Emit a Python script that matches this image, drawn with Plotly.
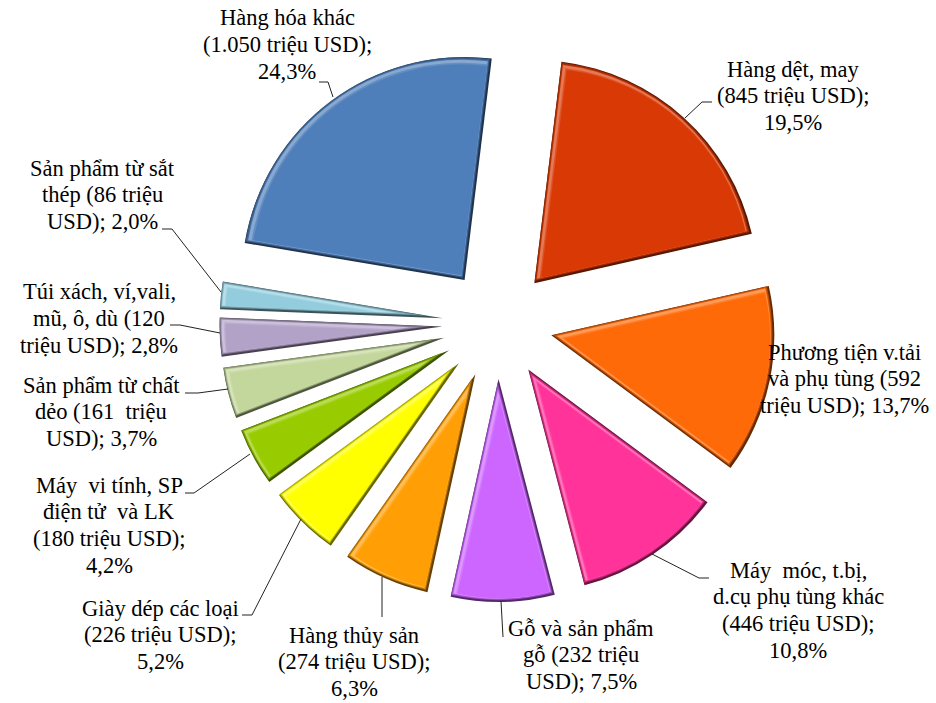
import math
import plotly.graph_objects as go

W, H = 936, 703

names = ["Hàng dệt, may", "Phương tiện v.tải và phụ tùng", "Máy móc, t.bị, d.cụ phụ tùng khác",
         "Gỗ và sản phẩm gỗ", "Hàng thủy sản", "Giày dép các loại", "Máy vi tính, SP điện tử và LK",
         "Sản phẩm từ chất dẻo", "Túi xách, ví,vali, mũ, ô, dù", "Sản phẩm từ sắt thép", "Hàng hóa khác"]
shares = [19.5, 13.7, 10.8, 7.5, 6.3, 5.2, 4.2, 3.7, 2.8, 2.0, 24.3]
colors = ["#D93A05", "#FF6A08", "#FF3399", "#CC66FF", "#FF9F05", "#FFFF00",
          "#99CC00", "#C3D69B", "#B3A2C7", "#93CDDD", "#4F7FBA"]
label_lines = [
    ["Hàng dệt, may", "(845 triệu USD);", "19,5%"],
    ["Phương tiện v.tải", "và phụ tùng (592", "triệu USD); 13,7%"],
    ["Máy  móc, t.bị,", "d.cụ phụ tùng khác", "(446 triệu USD);", "10,8%"],
    ["Gỗ và sản phẩm", "gỗ (232 triệu", "USD); 7,5%"],
    ["Hàng thủy sản", "(274 triệu USD);", "6,3%"],
    ["Giày dép các loại", "(226 triệu USD);", "5,2%"],
    ["Máy  vi tính, SP", "điện tử  và LK", "(180 triệu USD);", "4,2%"],
    ["Sản phẩm từ chất", "dẻo (161  triệu", "USD); 3,7%"],
    ["Túi xách, ví,vali,", "mũ, ô, dù (120", "triệu USD); 2,8%"],
    ["Sản phẩm từ sắt", "thép (86 triệu", "USD); 2,0%"],
    ["Hàng hóa khác", "(1.050 triệu USD);", "24,3%"],
]
label_x = [793, 844, 798, 581, 354, 160, 109, 101, 99, 102, 287]
label_y0 = [69, 352, 570, 628, 635, 608, 485, 385, 292, 168, 18]
LINE_GAP = 26.8
FONT_SIZE = 22.5
leaders = [
    [(685, 118), (702, 102), (712, 102)],
    [(652, 554), (699, 578), (709, 578)],
    [(501, 601), (503, 637)],
    [(382, 577), (382, 617)],
    [(301, 519), (252, 615), (242, 615)],
    [(250, 454), (194, 493), (185, 493)],
    [(228, 389), (198, 393), (185, 393)],
    [(220, 333), (180, 325), (170, 325)],
    [(221, 292), (172, 229), (162, 229)],
    [(333, 97), (328, 82), (319, 82)],
]

CX, CY, R, TIP, ROT = 497.5, 324, 223, 55, 7


def mix(col, other, t):
    a = [int(col[i:i + 2], 16) for i in (1, 3, 5)]
    return "rgb(%d,%d,%d)" % tuple(round(x + (other - x) * t) for x in a)


def layer(i, inset, shift, col):
    half = math.radians(shares[i] * 3.6 / 2)
    s = math.sin(half)
    e = min(inset, 0.33 * R * s)
    tip = TIP + e / s
    r = R - e - e / s
    half_dom = r + tip
    cx, cy = CX + shift, CY + shift
    cols = ["rgba(0,0,0,0)"] * len(shares)
    cols[i] = col
    pull = [0] * len(shares)
    pull[i] = tip / r
    return go.Pie(values=shares, labels=names, sort=False, direction="clockwise", rotation=ROT,
                  pull=pull, textinfo="none", hoverinfo="skip", showlegend=False,
                  marker=dict(colors=cols, line=dict(width=0)),
                  domain=dict(x=[(cx - half_dom) / W, (cx + half_dom) / W],
                              y=[1 - (cy + half_dom) / H, 1 - (cy - half_dom) / H]))


fig = go.Figure()
for i, c in enumerate(colors):
    fig.add_trace(layer(i, 0, 0, mix(c, 0, 0.6)))
    fig.add_trace(layer(i, 1, -0.9, mix(c, 0, 0.3)))
    fig.add_trace(layer(i, 2, -0.8, mix(c, 0, 0.1)))
    fig.add_trace(layer(i, 2.8, -0.8, mix(c, 255, 0.32)))
    fig.add_trace(layer(i, 4.2, 0.4, mix(c, 255, 0.12)))
    fig.add_trace(layer(i, 5, 1, c))

shapes = []
for pts in leaders:
    for (x0, y0), (x1, y1) in zip(pts, pts[1:]):
        shapes.append(dict(type="line", xref="paper", yref="paper",
                           x0=x0 / W, x1=x1 / W, y0=1 - y0 / H, y1=1 - y1 / H,
                           line=dict(color="#222222", width=1)))

annotations = []
for lines, x, y0 in zip(label_lines, label_x, label_y0):
    for k, line in enumerate(lines):
        annotations.append(dict(text=line, x=x / W, y=1 - (y0 + k * LINE_GAP) / H,
                                xref="paper", yref="paper", showarrow=False,
                                xanchor="center", yanchor="middle", align="center",
                                font=dict(family="Liberation Serif", size=FONT_SIZE, color="#000000")))

fig.update_layout(width=W, height=H, margin=dict(l=0, r=0, t=0, b=0), paper_bgcolor="white",
                  plot_bgcolor="white", shapes=shapes, annotations=annotations, showlegend=False)
fig.write_html("out.html", config={"displayModeBar": False},
               post_script="document.body.style.margin='0';")
